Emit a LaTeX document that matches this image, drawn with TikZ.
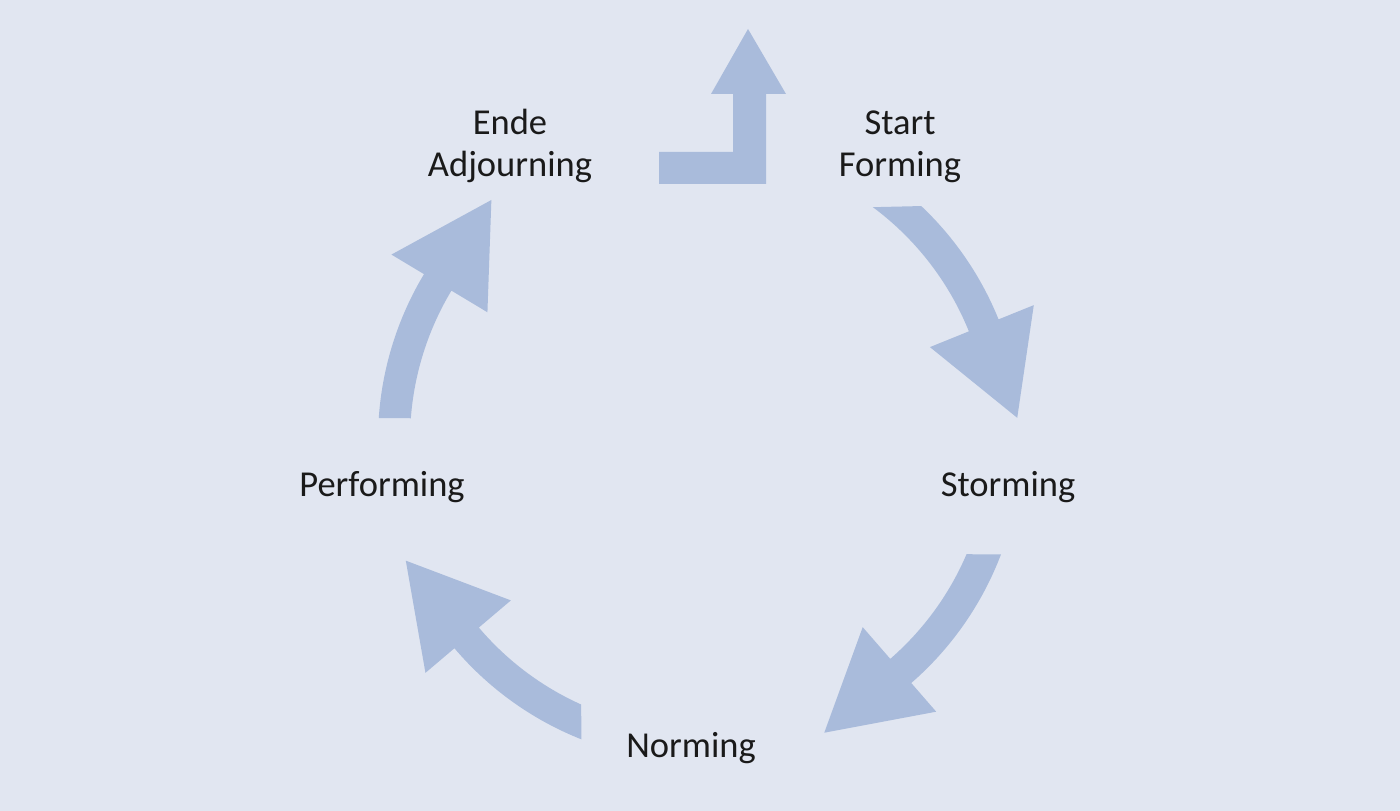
\documentclass[tikz,border=0pt]{standalone}
\usepackage{fontspec}
\setmainfont{Carlito}
\definecolor{bgc}{HTML}{E1E6F1}
\definecolor{arrc}{HTML}{A9BBDB}
\definecolor{txtc}{HTML}{1A1A1A}
\begin{document}
\begin{tikzpicture}[x=1pt,y=1pt,
  lbl/.style={inner sep=0pt, text=txtc, align=center, font=\fontsize{36.5}{42}\selectfont},
  bigarrow/.style={fill=arrc, draw=none}]
\fill[bgc] (0,0) rectangle (1400,811);
\useasboundingbox (0,0) rectangle (1400,811);
% labels
\node[lbl, anchor=base] (start) at (900,634) {Start\\Forming};
\node[lbl, anchor=base] (ende) at (510,634) {Ende\\Adjourning};
\node[lbl, anchor=base] (storming) at (1008,314) {Storming};
\node[lbl, anchor=base] (performing) at (382,314) {Performing};
\node[lbl, anchor=base] (norming) at (691,53) {Norming};
\coordinate (C) at (700,371);
% L-shaped start arrow
\fill[bigarrow] (659,627) -- (766,627) -- (766,717) -- (786,717) -- (748,782)
  -- (711,717) -- (733,717) -- (733,659) -- (659,659) -- cycle;
% curved arrows
\begin{scope}[shift={(C)}]
% Start -> Storming
\fill[bigarrow] (53.4:290pt) arc[start angle=53.4, end angle=22, radius=290pt]
  -- (22:248pt) -- (4:318pt) -- (22:360pt) -- (22:322pt)
  arc[start angle=22, end angle=46.6, radius=322pt] -- cycle;
% Storming -> Norming
\fill[bigarrow] (-23.2:290pt) arc[start angle=-23.2, end angle=-49, radius=290pt]
  -- (-49:248pt) -- (-67:318pt) -- (-49:360pt) -- (-49:322pt)
  arc[start angle=-49, end angle=-20.8, radius=322pt] -- cycle;
% Norming -> Performing
\fill[bigarrow] (245.8:290pt) arc[start angle=245.8, end angle=220.3, radius=290pt]
  -- (220.3:248pt) -- (202.3:318pt) -- (220.3:360pt) -- (220.3:322pt)
  arc[start angle=220.3, end angle=248.4, radius=322pt] -- cycle;
% Performing -> Ende
\fill[bigarrow] (175.7:290pt) arc[start angle=175.7, end angle=149, radius=290pt]
  -- (149:248pt) -- (131:318pt) -- (149:360pt) -- (149:322pt)
  arc[start angle=149, end angle=176.1, radius=322pt] -- cycle;
\end{scope}
\end{tikzpicture}
\end{document}
